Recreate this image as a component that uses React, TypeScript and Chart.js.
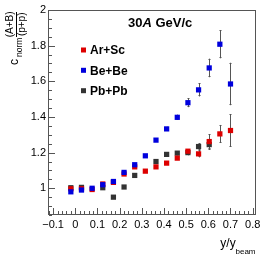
import { useEffect, useRef } from "react";
import { Chart, registerables } from "chart.js";

Chart.register(...registerables);

const FONT = '"Liberation Sans", Arial, Helvetica, sans-serif';

// rapidity bins (y / y_beam)
const xBins = [-0.02, 0.028, 0.076, 0.124, 0.172, 0.22, 0.268, 0.316, 0.364, 0.412, 0.46, 0.508, 0.556, 0.604, 0.652, 0.7];

const arScValues = [0.997, 0.997, 0.993, 1.024, 1.033, 1.08, 1.12, 1.096, 1.12, 1.141, 1.169, 1.208, 1.193, 1.262, 1.305, 1.324];
const arScErrors = [0.006, 0.006, 0.006, 0.006, 0.006, 0.006, 0.007, 0.007, 0.008, 0.009, 0.01, 0.012, 0.02, 0.042, 0.05, 0.092];

const beBeValues = [0.98, 0.99, 1.0, 1.02, 1.038, 1.089, 1.132, 1.182, 1.27, 1.333, 1.398, 1.48, 1.552, 1.675, 1.808, 1.585];
const beBeErrors = [0.005, 0.005, 0.005, 0.006, 0.006, 0.007, 0.008, 0.009, 0.01, 0.012, 0.015, 0.025, 0.037, 0.052, 0.079, 0.119];

const pbPbValues: (number | null)[] = [1.003, 1.005, null, 1.003, 0.95, 1.007, 1.072, null, 1.15, 1.19, 1.197, 1.2, 1.234, 1.245, null, null];
const pbPbErrors: (number | null)[] = [0.006, 0.006, null, 0.006, 0.006, 0.007, 0.008, null, 0.01, 0.011, 0.012, 0.015, 0.02, 0.03, null, null];

const xTickValues = [-0.1, 0, 0.1, 0.2, 0.3, 0.4, 0.5, 0.6, 0.7, 0.8];
const yTickValues = [1, 1.2, 1.4, 1.6, 1.8, 2];

const seriesNames = ["Ar+Sc", "Be+Be", "Pb+Pb"];
const seriesColors = ["#dd0000", "#0000dd", "#333333"];

const X_MIN = -0.123;
const X_MAX = 0.815;
const Y_MIN = 0.85;
const Y_MAX = 2;

function points(values: (number | null)[], errors: (number | null)[]) {
  const out: { x: number; y: number; e: number }[] = [];
  values.forEach((v, i) => {
    if (v !== null && v !== undefined) out.push({ x: xBins[i], y: v, e: errors[i] ?? 0 });
  });
  return out;
}

function fmt(v: number) {
  if (v === 0) return "0";
  const s = String(Number(Math.abs(v).toFixed(3)));
  return v < 0 ? "\u2212" + s : s;
}

const rootPlugin = {
  id: "rootStyle",
  beforeDatasetsDraw(chart: any) {
    const { ctx } = chart;
    const xs = chart.scales.x;
    const ys = chart.scales.y;
    ctx.save();
    ctx.strokeStyle = "#555";
    ctx.lineWidth = 1;
    chart.data.datasets.forEach((ds: any) => {
      ds.data.forEach((p: any) => {
        if (!p.e) return;
        const px = Math.round(xs.getPixelForValue(p.x)) + 0.5;
        const y1 = ys.getPixelForValue(p.y + p.e);
        const y2 = ys.getPixelForValue(p.y - p.e);
        ctx.beginPath();
        ctx.moveTo(px, y1);
        ctx.lineTo(px, y2);
        ctx.stroke();
        ctx.beginPath();
        ctx.moveTo(px - 1, Math.round(y1) + 0.5);
        ctx.lineTo(px + 1, Math.round(y1) + 0.5);
        ctx.moveTo(px - 1, Math.round(y2) - 0.5);
        ctx.lineTo(px + 1, Math.round(y2) - 0.5);
        ctx.stroke();
      });
    });
    ctx.restore();
  },
  afterDraw(chart: any) {
    const { ctx, chartArea } = chart;
    const xs = chart.scales.x;
    const ys = chart.scales.y;
    const { left, right, top, bottom } = chartArea;
    ctx.save();
    // frame
    ctx.strokeStyle = "#555";
    ctx.lineWidth = 1;
    ctx.strokeRect(left + 0.5, top + 0.5, right - left - 1, bottom - top - 1);
    // x ticks
    ctx.beginPath();
    for (let k = -6; k <= 40; k++) {
      const v = k * 0.02;
      if (v < X_MIN || v > X_MAX) continue;
      const px = Math.round(xs.getPixelForValue(v)) + 0.5;
      const len = k % 5 === 0 ? 6 : 3;
      ctx.moveTo(px, bottom - 1);
      ctx.lineTo(px, bottom - 1 - len);
    }
    // y ticks
    for (let k = 17; k <= 40; k++) {
      const v = k * 0.05;
      if (v < Y_MIN || v > Y_MAX) continue;
      const py = Math.round(ys.getPixelForValue(v)) + 0.5;
      const len = k % 4 === 0 ? 6 : 3;
      ctx.moveTo(left + 1, py);
      ctx.lineTo(left + 1 + len, py);
    }
    ctx.stroke();

    // title
    ctx.fillStyle = "#000";
    ctx.textAlign = "left";
    ctx.textBaseline = "alphabetic";
    let tx = 128;
    ctx.font = `bold 13px ${FONT}`;
    ctx.fillText("30", tx, 26.5);
    tx += ctx.measureText("30").width;
    ctx.font = `italic bold 13px ${FONT}`;
    ctx.fillText("A", tx, 26.5);
    tx += ctx.measureText("A").width;
    ctx.font = `bold 13px ${FONT}`;
    ctx.fillText(" GeV/c", tx, 26.5);

    // legend
    const legendY = [50, 70.3, 90.7];
    seriesNames.forEach((name, i) => {
      ctx.fillStyle = seriesColors[i];
      ctx.fillRect(81, legendY[i] - 2.5, 5, 5);
      ctx.fillStyle = "#000";
      ctx.font = `bold 12px ${FONT}`;
      ctx.fillText(name, 90, legendY[i] + 4.3);
    });

    // x title
    ctx.font = `12px ${FONT}`;
    ctx.fillText("y/y", 220.3, 247);
    ctx.font = `8px ${FONT}`;
    ctx.fillText("beam", 235.5, 254);

    // y title (rotated)
    ctx.save();
    ctx.rotate(-Math.PI / 2);
    ctx.font = `12px ${FONT}`;
    ctx.textAlign = "left";
    ctx.fillText("c", -65, 18.3);
    ctx.font = `8.5px ${FONT}`;
    ctx.fillText("norm", -57, 21.5);
    ctx.font = `10px ${FONT}`;
    ctx.textAlign = "center";
    ctx.fillText("(A+B)", -24.3, 12.8);
    ctx.fillText("(p+p)", -24.3, 24.6);
    ctx.strokeStyle = "#000";
    ctx.beginPath();
    ctx.moveTo(-37, 16.5);
    ctx.lineTo(-12, 16.5);
    ctx.stroke();
    ctx.restore();

    ctx.restore();
  },
};

export default function App() {
  const ref = useRef<HTMLCanvasElement | null>(null);

  useEffect(() => {
    if (!ref.current) return;
    const mk = (idx: number, vals: (number | null)[], errs: (number | null)[]) => ({
      label: seriesNames[idx],
      data: points(vals, errs),
      showLine: false,
      pointStyle: "rect",
      pointRadius: 3.7,
      pointHoverRadius: 3.7,
      backgroundColor: seriesColors[idx],
      borderColor: seriesColors[idx],
      borderWidth: 0,
    });
    const chart = new Chart(ref.current, {
      type: "scatter",
      data: {
        // Be+Be first so it is drawn on top, then Ar+Sc, then Pb+Pb
        datasets: [mk(1, beBeValues, beBeErrors), mk(0, arScValues, arScErrors), mk(2, pbPbValues, pbPbErrors)] as any,
      },
      options: {
        responsive: false,
        animation: false,
        events: [],
        layout: { padding: { top: 10, right: 10, left: 0, bottom: 0 } },
        plugins: { legend: { display: false }, tooltip: { enabled: false } },
        scales: {
          x: {
            type: "linear",
            min: X_MIN,
            max: X_MAX,
            grid: { display: false, drawTicks: false },
            border: { display: false },
            afterBuildTicks: (scale: any) => {
              scale.ticks = xTickValues.map((v) => ({ value: v }));
            },
            afterFit: (scale: any) => {
              scale.height = 41;
            },
            ticks: {
              autoSkip: false,
              maxRotation: 0,
              minRotation: 0,
              padding: 3,
              color: "#000",
              font: { family: FONT, size: 11 },
              callback: (v: any) => fmt(Number(v)),
            },
          },
          y: {
            type: "linear",
            min: Y_MIN,
            max: Y_MAX,
            grid: { display: false, drawTicks: false },
            border: { display: false },
            afterBuildTicks: (scale: any) => {
              scale.ticks = yTickValues.map((v) => ({ value: v }));
            },
            afterFit: (scale: any) => {
              scale.width = 48;
            },
            ticks: {
              autoSkip: false,
              padding: 2,
              color: "#000",
              font: { family: FONT, size: 11 },
              callback: (v: any) => fmt(Number(v)),
            },
          },
        },
      },
      plugins: [rootPlugin],
    });
    return () => chart.destroy();
  }, []);

  return (
    <div style={{ position: "fixed", left: 0, top: 0, width: 266, height: 256, background: "#fff" }}>
      <canvas ref={ref} width={266} height={256} style={{ display: "block", width: 266, height: 256 }} />
    </div>
  );
}
